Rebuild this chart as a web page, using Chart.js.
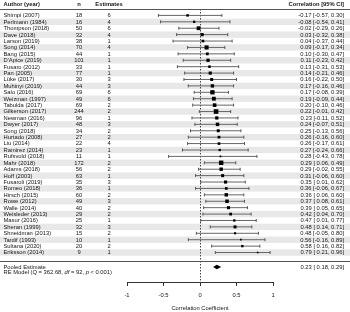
<!DOCTYPE html>
<html>
<head>
<meta charset="utf-8">
<script src="https://cdn.jsdelivr.net/npm/chart.js@4.4.0/dist/chart.umd.min.js"></script>
<style>
  html, body { margin: 0; padding: 0; background: #fff; }
</style>
</head>
<body>
<canvas id="forest" width="350" height="312"></canvas>
<script>
// study rows, top to bottom
const authors = [
  'Shimpi (2007)', 'Perlmann (1984)', 'Thompson (2018)', 'Dave (2018)', 'Larson (2019)',
  'Song (2014)', 'Bang (2015)', "D'Apice (2019)", 'Fusaro (2012)', 'Pan (2005)',
  'Lüke (2017)', 'Muhinyi (2019)', 'Salo (2016)', 'Weizman (1997)', 'Tabulda (2017)',
  'Gilkerson (2017)', 'Newman (2016)', 'Dwyer (2017)', 'Song (2018)', 'Hurtado (2008)',
  'Liu (2014)', 'Ramirez (2014)', 'Rufsvold (2018)', 'Mahr (2018)', 'Adams (2018)',
  'Hoff (2003)', 'Fusaroli (2019)', 'Romeo (2018)', 'Hirsch (2015)', 'Rowe (2012)',
  'Walle (2014)', 'Weisleder (2013)', 'Masur (2016)', 'Sheran (1999)', 'Shneidman (2013)',
  'Tardif (1993)', 'Sultana (2020)', 'Eriksson (2014)'
];
const sampleN = [18, 16, 50, 32, 38, 70, 44, 101, 33, 77, 30, 44, 69, 49, 69,
  244, 96, 48, 34, 27, 22, 23, 11, 172, 56, 63, 35, 36, 60, 49, 40, 29, 25, 32, 15, 10, 20, 9];
const numEstimates = [6, 4, 6, 4, 1, 4, 1, 1, 1, 1, 3, 3, 6, 6, 2,
  2, 1, 3, 2, 2, 4, 1, 1, 2, 2, 1, 3, 1, 2, 3, 2, 2, 1, 3, 2, 1, 2, 1];
const corr = [-0.17, -0.08, -0.02, 0.03, 0.04, 0.09, 0.10, 0.11, 0.13, 0.14, 0.16, 0.17, 0.17, 0.19, 0.20,
  0.22, 0.23, 0.24, 0.25, 0.26, 0.26, 0.27, 0.28, 0.29, 0.29, 0.31, 0.35, 0.36, 0.36, 0.37,
  0.39, 0.42, 0.47, 0.48, 0.48, 0.56, 0.58, 0.79];
const ciLower = [-0.57, -0.54, -0.29, -0.32, -0.37, -0.17, -0.30, -0.23, -0.31, -0.21, -0.22, -0.16, -0.08, -0.09, -0.10,
  -0.01, -0.11, -0.07, -0.13, -0.16, -0.17, -0.24, -0.43, 0.06, -0.02, -0.06, 0.01, -0.06, 0.06, 0.08,
  0.05, 0.04, 0.01, 0.14, -0.05, -0.16, 0.16, 0.21];
const ciUpper = [0.30, 0.41, 0.26, 0.38, 0.44, 0.34, 0.47, 0.42, 0.53, 0.46, 0.50, 0.46, 0.39, 0.44, 0.46,
  0.42, 0.52, 0.51, 0.56, 0.60, 0.61, 0.66, 0.78, 0.49, 0.55, 0.60, 0.62, 0.67, 0.60, 0.61,
  0.65, 0.70, 0.77, 0.71, 0.80, 0.89, 0.82, 0.96];

const pooledEst = 0.23;
const pooledLower = 0.18;
const pooledUpper = 0.29;
const modelQ = '362.68';
const modelDf = '92';
const modelP = '< 0.001';

const xTicks = [-1, -0.5, 0, 0.5, 1];

const FONT = "'Liberation Sans', Arial, sans-serif";
const FS = 5.8;
const TXT = '#161616';

const nRows = authors.length;
const pooledRow = nRows + 1.25;
const modelRow = nRows + 2.1;
const ruleRow = nRows + 0.27;

// square size follows precision (from the CI width on Fisher z scale)
const prec = ciLower.map((lo, i) => 3.92 / (Math.atanh(ciUpper[i]) - Math.atanh(lo)));
const pMin = Math.min(...prec), pMax = Math.max(...prec);
const sqRadius = prec.map(p => (1.6 + 3.0 * (p - pMin) / (pMax - pMin)) / Math.SQRT2);

const fmt = v => v.toFixed(2);
const fmtLo = v => (v < 0 ? '' : ' ') + v.toFixed(2);
const ciText = (e, lo, hi) => fmt(e) + ' [' + fmtLo(lo) + ', ' + fmt(hi) + ']';

const crisp = v => Math.round(v) + 0.5;

const tablePlugin = {
  id: 'table',
  beforeDraw(chart) {
    const {ctx, scales: {y}} = chart;
    ctx.save();
    ctx.fillStyle = '#e8e8e8';
    authors.forEach((a, i) => {
      if (i % 2 === 1) {
        const top = y.getPixelForValue(i - 0.5);
        const bot = y.getPixelForValue(i + 0.5);
        ctx.fillRect(0, top, chart.width, bot - top);
      }
    });
    ctx.restore();
  },
  beforeDatasetsDraw(chart) {
    const {ctx, chartArea, scales: {x, y}} = chart;
    ctx.save();
    ctx.strokeStyle = '#555';
    ctx.lineWidth = 1;
    // header rule and rule under the studies
    [y.getPixelForValue(-1), y.getPixelForValue(ruleRow)].forEach(p => {
      ctx.beginPath();
      ctx.moveTo(0, crisp(p));
      ctx.lineTo(chart.width, crisp(p));
      ctx.stroke();
    });
    // reference line at zero
    const x0 = crisp(x.getPixelForValue(0));
    ctx.setLineDash([1.5, 1.5]);
    ctx.strokeStyle = '#444';
    ctx.beginPath();
    ctx.moveTo(x0, y.getPixelForValue(-1));
    ctx.lineTo(x0, chartArea.bottom);
    ctx.stroke();
    ctx.restore();
  },
  afterDatasetsDraw(chart) {
    const {ctx, scales: {x, y}} = chart;
    // pooled estimate diamond
    const py = y.getPixelForValue(pooledRow);
    const h = 2.2;
    ctx.save();
    ctx.fillStyle = '#000';
    ctx.beginPath();
    ctx.moveTo(x.getPixelForValue(pooledLower), py);
    ctx.lineTo(x.getPixelForValue(pooledEst), py - h);
    ctx.lineTo(x.getPixelForValue(pooledUpper), py);
    ctx.lineTo(x.getPixelForValue(pooledEst), py + h);
    ctx.closePath();
    ctx.fill();
    ctx.restore();
  },
  afterDraw(chart) {
    const {ctx, scales: {y}} = chart;
    const W = chart.width;
    const colN = 79, colK = 109, colL = 3.5, colR = W - 6;
    ctx.save();
    ctx.fillStyle = TXT;
    ctx.textBaseline = 'middle';

    // header
    const hy = y.getPixelForValue(-1) - 4.4;
    ctx.font = 'bold ' + FS + 'px ' + FONT;
    ctx.textAlign = 'left';
    ctx.fillText('Author (year)', colL, hy);
    ctx.textAlign = 'center';
    ctx.fillText('n', colN, hy);
    ctx.fillText('Estimates', colK, hy);
    ctx.textAlign = 'right';
    ctx.fillText('Correlation [95% CI]', colR, hy);

    // rows
    ctx.font = FS + 'px ' + FONT;
    authors.forEach((a, i) => {
      const ry = y.getPixelForValue(i) + 0.3;
      ctx.textAlign = 'left';
      ctx.fillText(a, colL, ry);
      ctx.textAlign = 'center';
      ctx.fillText(String(sampleN[i]), colN, ry);
      ctx.fillText(String(numEstimates[i]), colK, ry);
      ctx.textAlign = 'right';
      ctx.fillText(ciText(corr[i], ciLower[i], ciUpper[i]), colR, ry);
    });

    // pooled
    const py = y.getPixelForValue(pooledRow);
    ctx.textAlign = 'left';
    ctx.fillText('Pooled Estimate', colL, py);
    ctx.textAlign = 'right';
    ctx.fillText(ciText(pooledEst, pooledLower, pooledUpper), colR, py);

    const my = y.getPixelForValue(modelRow);
    const parts = [
      ['RE Model (Q = ' + modelQ + ', ', false],
      ['df', true],
      [' = ' + modelDf + ', ', false],
      ['p', true],
      [' ' + modelP + ')', false]
    ];
    ctx.textAlign = 'left';
    let cx = colL;
    parts.forEach(([t, it]) => {
      ctx.font = (it ? 'italic ' : '') + FS + 'px ' + FONT;
      ctx.fillText(t, cx, my);
      cx += ctx.measureText(t).width;
    });
    ctx.restore();
  }
};

const ciDatasets = authors.map((a, i) => ({
  type: 'line',
  data: [{x: ciLower[i], y: i}, {x: ciUpper[i], y: i}],
  borderColor: '#666',
  borderWidth: 1,
  pointRadius: 0,
  order: 3
}));

const capDataset = {
  type: 'scatter',
  data: authors.flatMap((a, i) => [{x: ciLower[i], y: i}, {x: ciUpper[i], y: i}]),
  pointStyle: 'line',
  rotation: 90,
  pointRadius: 1.5,
  borderColor: '#555',
  borderWidth: 1,
  order: 2
};

const pointDataset = {
  type: 'scatter',
  data: authors.map((a, i) => ({x: corr[i], y: i})),
  pointStyle: 'rect',
  pointRadius: sqRadius,
  backgroundColor: '#000',
  borderColor: '#000',
  borderWidth: 0,
  order: 1
};

new Chart(document.getElementById('forest'), {
  type: 'scatter',
  data: { datasets: [...ciDatasets, capDataset, pointDataset] },
  options: {
    responsive: false,
    animation: false,
    devicePixelRatio: 1,
    layout: { padding: { left: 127, right: 77, top: 9, bottom: 0 } },
    plugins: { legend: { display: false }, tooltip: { enabled: false } },
    scales: {
      x: {
        type: 'linear',
        min: -1,
        max: 1,
        afterBuildTicks: s => { s.ticks = xTicks.map(v => ({value: v})); },
        afterFit: s => { s.height = 30; },
        ticks: {
          font: { family: FONT, size: FS },
          color: TXT,
          padding: 6,
          maxRotation: 0,
          callback: v => String(v)
        },
        grid: { drawOnChartArea: false, tickLength: 4, color: '#333', tickColor: '#333' },
        border: { display: true, color: '#333', width: 1 },
        title: {
          display: true,
          text: 'Correlation Coefficient',
          font: { family: FONT, size: FS },
          color: TXT,
          padding: { top: 0, bottom: 0 }
        }
      },
      y: {
        type: 'linear',
        display: false,
        reverse: true,
        min: -1,
        max: nRows + 3.6
      }
    }
  },
  plugins: [tablePlugin]
});
</script>
</body>
</html>
